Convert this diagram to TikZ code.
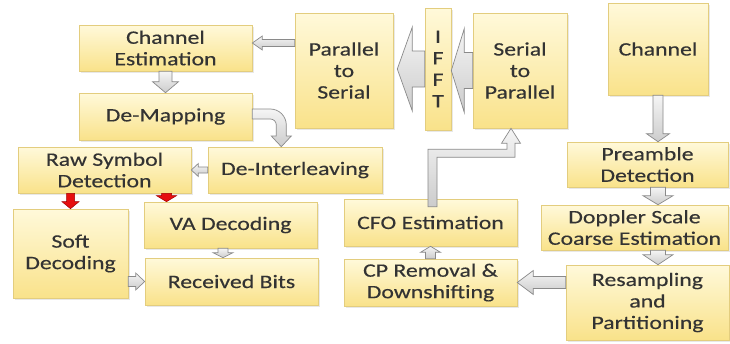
\documentclass[tikz,border=0pt]{standalone}
\usepackage{fontspec}
\setmainfont[FakeStretch=1.25, FakeBold=0.3]{Carlito}
\usetikzlibrary{calc,shadows}

\definecolor{boxtop}{HTML}{FFF9DA}
\definecolor{boxbot}{HTML}{F9E28A}
\definecolor{boxedge}{HTML}{E3CD7E}
\definecolor{txt}{HTML}{333333}
\definecolor{arrowedge}{HTML}{8A8A8A}
\definecolor{redfill}{HTML}{E60F0F}
\definecolor{rededge}{HTML}{A00000}

\tikzset{
  box/.style={draw=boxedge, line width=0.6pt, top color=boxtop, bottom color=boxbot,
    text=txt, align=center, inner sep=0pt, font=\fontsize{19}{21.5}\selectfont,
    drop shadow={shadow xshift=1.5pt, shadow yshift=-1.5pt, opacity=0.18}},
  grayarrow/.style={draw=arrowedge, line width=0.7pt, line join=miter,
    top color=gray!8, bottom color=gray!40},
  redarrow/.style={draw=rededge, line width=0.5pt, fill=redfill},
}

% block arrow: [style]{start}{tip}{shaft half width}{head half width}{head length}
\newcommand\blockarrow[6][grayarrow]{%
  \coordinate (ba-s) at (#2);
  \coordinate (ba-e) at (#3);
  \coordinate (ba-h) at ($(ba-e)!#6!(ba-s)$);
  \path[#1] ($(ba-s)!#4!90:(ba-e)$) -- ($(ba-h)!#4!90:(ba-e)$) -- ($(ba-h)!#5!90:(ba-e)$)
    -- (ba-e) -- ($(ba-h)!#5!-90:(ba-e)$) -- ($(ba-h)!#4!-90:(ba-e)$)
    -- ($(ba-s)!#4!-90:(ba-e)$) -- cycle;
}

\begin{document}
\begin{tikzpicture}[x=1pt, y=-1pt]
\useasboundingbox[fill=white] (0,0) rectangle (730,343);

% receiver chain, right column
\node[box, minimum width=100pt, minimum height=92pt]  (chan) at (658,49)     {Channel};
\node[box, minimum width=161pt, minimum height=45pt]  (pre)  at (647.5,164.5) {Preamble\\Detection};
\node[box, minimum width=187pt, minimum height=45pt]  (dop)  at (634.5,227.5) {Doppler Scale\\Coarse Estimation};
\node[box, minimum width=163pt, minimum height=75pt]  (res)  at (647.5,302.5) {Resampling\\and\\Partitioning};

% middle column
\node[box, minimum width=173pt, minimum height=47pt]  (cp)   at (430.5,282.5) {CP Removal \&\\Downshifting};
\node[box, minimum width=173pt, minimum height=47pt]  (cfo)  at (430.5,222.5) {CFO Estimation};
\node[box, minimum width=94pt,  minimum height=115pt] (sp)   at (520,70.5)    {Serial\\to\\Parallel};
\node[box, minimum width=26pt,  minimum height=122pt] (ifft) at (438,69)      {I\\F\\F\\T};
\node[box, minimum width=98pt,  minimum height=115pt] (ps)   at (344,70.5)    {Parallel\\to\\Serial};

% left column
\node[box, minimum width=173pt, minimum height=46pt]  (ce)   at (165.5,48)    {Channel\\Estimation};
\node[box, minimum width=173pt, minimum height=47pt]  (dm)   at (165.5,116.5) {De-Mapping};
\node[box, minimum width=174pt, minimum height=46pt]  (di)   at (295,170)     {De-Interleaving};
\node[box, minimum width=173pt, minimum height=46pt]  (rs)   at (104.5,170)   {Raw Symbol\\Detection};
\node[box, minimum width=115pt, minimum height=89pt]  (sd)   at (70.5,253.5)  {Soft\\Decoding};
\node[box, minimum width=173pt, minimum height=46pt]  (va)   at (230.5,225)   {VA Decoding};
\node[box, minimum width=173pt, minimum height=47pt]  (rb)   at (231.5,281.5) {Received Bits};

% connectors
\blockarrow{chan.south}{chan.south |- pre.north}{5pt}{11.5pt}{8pt}
\blockarrow{chan.south |- pre.south}{chan.south |- dop.north}{7.5pt}{15pt}{9pt}
\blockarrow{chan.south |- dop.south}{chan.south |- res.north}{7.5pt}{15pt}{10pt}
\blockarrow{cp.east -| res.west}{cp.east}{6pt}{12pt}{16pt}
\blockarrow{cp.north}{cfo.south}{5pt}{10pt}{6pt}

% CFO estimation up to serial-to-parallel
\coordinate (el-b) at ($(cfo.north)+(2,8)$);
\coordinate (el-t) at ($(sp.south)+(-9,0)$);
\path[grayarrow] let \p1=(el-b), \p2=(el-t) in
  (\x1-4.5pt,\y1) -- (\x1-4.5pt,\y2-21pt) -- (\x2-4pt,\y2-21pt) -- (\x2-4pt,\y2-15pt)
  -- (\x2-9.5pt,\y2-15pt) -- (\x2,\y2) -- (\x2+9.5pt,\y2-15pt) -- (\x2+4pt,\y2-15pt)
  -- (\x2+4pt,\y2-29pt) -- (\x1+4.5pt,\y2-29pt) -- (\x1+4.5pt,\y1) -- cycle;

\blockarrow{sp.west}{ifft.east |- sp.west}{18pt}{42pt}{13pt}
\blockarrow{ifft.west}{$(ifft.west -| ps.east)+(4,0)$}{18pt}{42pt}{15pt}
\blockarrow{$(ps.west |- ce.east)+(0,-5)$}{$(ce.east)+(0,-5)$}{3.5pt}{7pt}{10pt}
\blockarrow{ce.south}{dm.north}{6.5pt}{13pt}{11pt}

% bent arrow from de-mapping down to de-interleaving
\coordinate (bd-x) at ($(dm.east)+(29,0)$);
\path[grayarrow] ($(dm.east)+(0,-7.5)$) -- ($(dm.east)+(18,-7.5)$)
  .. controls ($(dm.east)+(26.8,-7.5)$) and ($(dm.east)+(34,-0.3)$) .. ($(dm.east)+(34,8.5)$)
  -- ($(dm.east)+(34,19.5)$) -- ($(dm.east)+(39,19.5)$)
  -- (bd-x |- di.north)
  -- ($(dm.east)+(19,19.5)$) -- ($(dm.east)+(24,19.5)$) -- ($(dm.east)+(24,8.5)$)
  .. controls ($(dm.east)+(24,5.2)$) and ($(dm.east)+(21.3,2.5)$) .. ($(dm.east)+(18,2.5)$)
  -- ($(dm.east)+(0,2.5)$) -- cycle;

\blockarrow{di.west}{rs.east}{3pt}{6.5pt}{7pt}

% raw symbol detection feeds both decoders
\coordinate (rv) at ($(rs.south)+(62,0)$);
\coordinate (vr) at ($(va.south)+(-7.5,0)$);
\blockarrow[redarrow]{sd.north |- rs.south}{sd.north}{4pt}{8.5pt}{7pt}
\blockarrow[redarrow]{rv}{rv |- va.north}{5pt}{10pt}{6pt}
\blockarrow{vr}{vr |- rb.north}{5pt}{10pt}{5pt}
\blockarrow{rb.west -| sd.east}{rb.west}{5pt}{8.5pt}{9pt}
\end{tikzpicture}
\end{document}
